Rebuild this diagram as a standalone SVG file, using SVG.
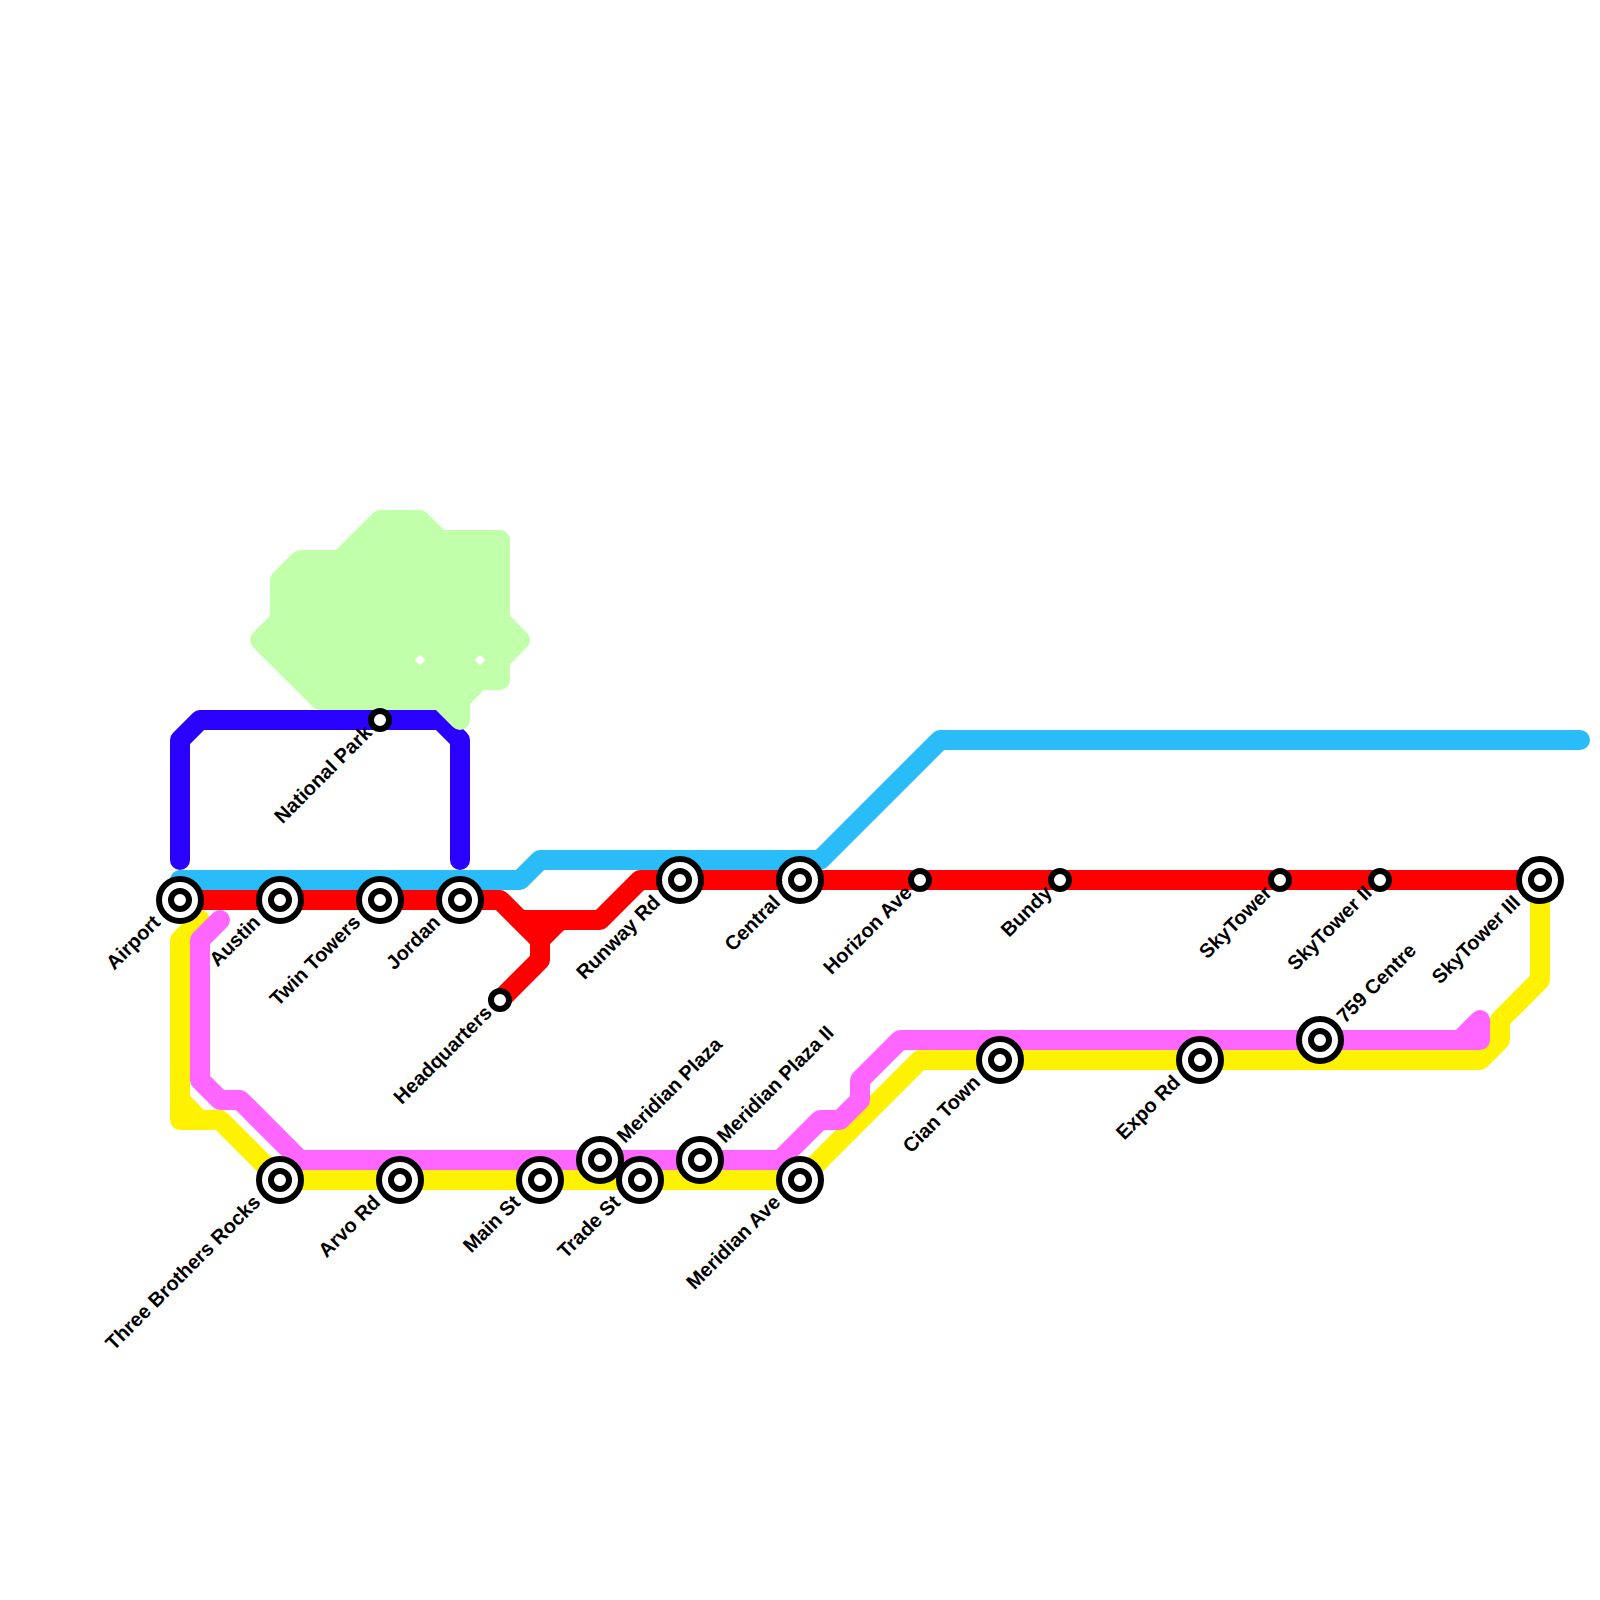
<svg xmlns="http://www.w3.org/2000/svg" width="1600" height="1600" viewBox="0 0 1600 1600">
<style>
.l{fill:none;stroke-width:20;stroke-linecap:round;stroke-linejoin:round}
.o,.s{fill:#fff;stroke:#000;stroke-width:6}
text{font-family:"Liberation Sans",Arial,sans-serif;font-weight:700;font-size:20px;fill:#000}
.e{text-anchor:end}
</style>
<defs>
<g id="ix"><circle class="o" r="21"/><circle class="s" r="9"/></g>
<circle id="sm" class="s" r="9"/>
</defs>
<rect width="1600" height="1600" fill="#fff"/>
<g id="connectors">
<path class="l" stroke="#2a00ff" d="M180 860V740L200 720H440L460 740V860"/>
<path class="l" stroke="#2abcf8" d="M180 880H520L540 860H820L940 740H1580"/>
<path class="l" stroke="#ff0000" d="M180 900H500L540 940V960L500 1000M520 920H600L640 880H1540M540 940L560 920"/>
<path class="l" stroke="#fff200" d="M1540 880V980L1500 1020V1040L1480 1060H920L800 1180H280L220 1120H180V940L200 920M180 1100L200 1120"/>
<path class="l" stroke="#ff66ff" d="M220 920L200 940V1080L220 1100H240L300 1160H780L820 1120H840L860 1100V1080L900 1040H1480V1020L1460 1040"/>
</g>
<g id="park">
<path d="M380 520H420L440 540H500V620L520 640L500 660V680H480L460 700V720L440 700H320L260 640L280 620V580L300 560H340Z" fill="#c1ffab" stroke="#c1ffab" stroke-width="20" stroke-linejoin="round"/>
<path d="M420 654.500L425.500 660L420 665.500L414.500 660ZM480 654.500L485.500 660L480 665.500L474.500 660Z" fill="#fff"/>
</g>
<g id="n-airport"><use href="#ix" x="180" y="900"/><text class="e" transform="translate(161.500 923.500) rotate(-45)">Airport</text></g>
<g id="n-austin"><use href="#ix" x="280" y="900"/><text class="e" transform="translate(261.500 923.500) rotate(-45)">Austin</text></g>
<g id="n-twin-towers"><use href="#ix" x="380" y="900"/><text class="e" transform="translate(361.500 923.500) rotate(-45)">Twin Towers</text></g>
<g id="n-jordan"><use href="#ix" x="460" y="900"/><text class="e" transform="translate(441.500 923.500) rotate(-45)">Jordan</text></g>
<g id="n-national-park"><use href="#sm" x="380" y="720"/><text class="e" transform="translate(373 734) rotate(-45)">National Park</text></g>
<g id="n-headquarters"><use href="#sm" x="500" y="1000"/><text class="e" transform="translate(493 1014) rotate(-45)">Headquarters</text></g>
<g id="n-runway-rd"><use href="#ix" x="680" y="880"/><text class="e" transform="translate(661.500 903.500) rotate(-45)">Runway Rd</text></g>
<g id="n-central"><use href="#ix" x="800" y="880"/><text class="e" transform="translate(781.500 903.500) rotate(-45)">Central</text></g>
<g id="n-horizon-ave"><use href="#sm" x="920" y="880"/><text class="e" transform="translate(913 894) rotate(-45)">Horizon Ave</text></g>
<g id="n-bundy"><use href="#sm" x="1060" y="880"/><text class="e" transform="translate(1053 894) rotate(-45)">Bundy</text></g>
<g id="n-skytower"><use href="#sm" x="1280" y="880"/><text class="e" transform="translate(1273 894) rotate(-45)">SkyTower</text></g>
<g id="n-skytower-ii"><use href="#sm" x="1380" y="880"/><text class="e" transform="translate(1373 894) rotate(-45)">SkyTower II</text></g>
<g id="n-skytower-iii"><use href="#ix" x="1540" y="880"/><text class="e" transform="translate(1521.500 903.500) rotate(-45)">SkyTower III</text></g>
<g id="n-759-centre"><use href="#ix" x="1320" y="1040"/><text transform="translate(1345 1024) rotate(-45)">759 Centre</text></g>
<g id="n-cian-town"><use href="#ix" x="1000" y="1060"/><text class="e" transform="translate(981.500 1083.500) rotate(-45)">Cian Town</text></g>
<g id="n-expo-rd"><use href="#ix" x="1200" y="1060"/><text class="e" transform="translate(1181.500 1083.500) rotate(-45)">Expo Rd</text></g>
<g id="n-three-brothers-rocks"><use href="#ix" x="280" y="1180"/><text class="e" transform="translate(261.500 1203.500) rotate(-45)">Three Brothers Rocks</text></g>
<g id="n-arvo-rd"><use href="#ix" x="400" y="1180"/><text class="e" transform="translate(381.500 1203.500) rotate(-45)">Arvo Rd</text></g>
<g id="n-main-st"><use href="#ix" x="540" y="1180"/><text class="e" transform="translate(521.500 1203.500) rotate(-45)">Main St</text></g>
<g id="n-meridian-plaza"><use href="#ix" x="600" y="1160"/><text transform="translate(625 1144) rotate(-45)">Meridian Plaza</text></g>
<g id="n-trade-st"><use href="#ix" x="640" y="1180"/><text class="e" transform="translate(621.500 1203.500) rotate(-45)">Trade St</text></g>
<g id="n-meridian-plaza-ii"><use href="#ix" x="700" y="1160"/><text transform="translate(725 1144) rotate(-45)">Meridian Plaza II</text></g>
<g id="n-meridian-ave"><use href="#ix" x="800" y="1180"/><text class="e" transform="translate(781.500 1203.500) rotate(-45)">Meridian Ave</text></g>
</svg>
